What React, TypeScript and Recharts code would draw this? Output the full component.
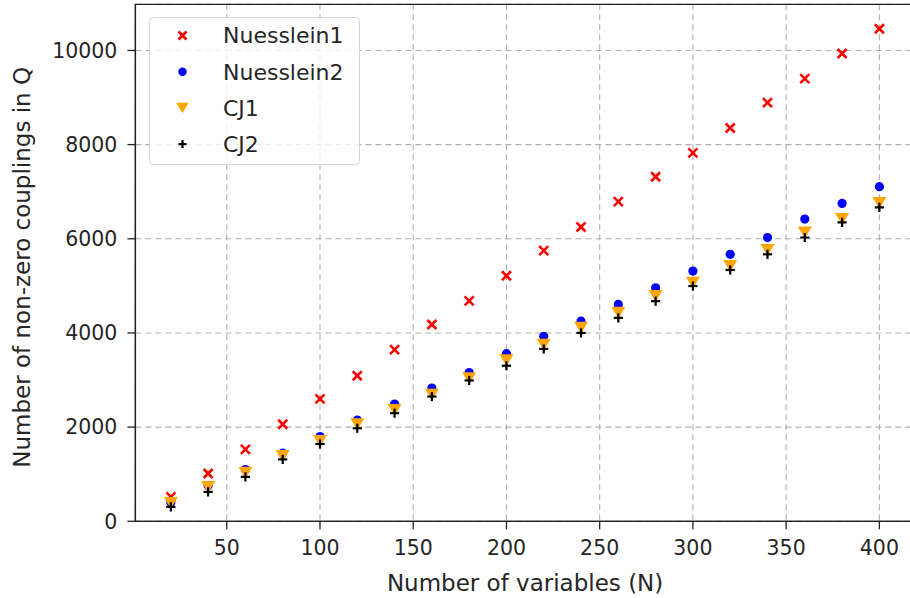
import React from 'react';
import { ScatterChart, Scatter, XAxis, YAxis, CartesianGrid, Legend, ReferenceArea, Label } from 'recharts';

const nValues = [20, 40, 60, 80, 100, 120, 140, 160, 180, 200, 220, 240, 260, 280, 300, 320, 340, 360, 380, 400];
const nuesslein1 = [518, 1016, 1528, 2061, 2601, 3092, 3646, 4179, 4680, 5215, 5750, 6250, 6790, 7318, 7825, 8352, 8891, 9400, 9936, 10460];
const nuesslein2 = [400, 760, 1100, 1450, 1800, 2150, 2490, 2829, 3160, 3560, 3930, 4250, 4605, 4960, 5315, 5671, 6027, 6418, 6752, 7107];
const cj1 = [390, 731, 1030, 1386, 1706, 2061, 2366, 2686, 3040, 3418, 3752, 4108, 4428, 4783, 5067, 5422, 5763, 6133, 6418, 6759];
const cj2 = [305, 625, 945, 1315, 1642, 1976, 2296, 2650, 2991, 3304, 3660, 4001, 4321, 4675, 4996, 5337, 5671, 6027, 6347, 6666];

const xTicks = [50, 100, 150, 200, 250, 300, 350, 400];
const yTicks = [0, 2000, 4000, 6000, 8000, 10000];
const xDomain = [1, 419];
const yDomain = [0, 10980];

const seriesNames = ['Nuesslein1', 'Nuesslein2', 'CJ1', 'CJ2'];

const toPoints = (ys: number[]) => nValues.map((x, i) => ({ x, y: ys[i] }));

const FONT = '"DejaVu Sans", sans-serif';
const TEXT = '#262626';

const drawCross = (cx: number, cy: number, s: number) => (
  <g>
    <line x1={cx - s} y1={cy - s} x2={cx + s} y2={cy + s} stroke="#ff0000" strokeWidth={2.6} />
    <line x1={cx - s} y1={cy + s} x2={cx + s} y2={cy - s} stroke="#ff0000" strokeWidth={2.6} />
  </g>
);
const drawDot = (cx: number, cy: number, r: number) => <circle cx={cx} cy={cy} r={r} fill="#0000ff" />;
const drawTri = (cx: number, cy: number, w: number, h: number) => (
  <polygon points={`${cx - w / 2},${cy - h / 2} ${cx + w / 2},${cy - h / 2} ${cx},${cy + h / 2}`} fill="#ffa500" />
);
const drawPlus = (cx: number, cy: number, s: number) => (
  <g>
    <line x1={cx - s} y1={cy} x2={cx + s} y2={cy} stroke="#000" strokeWidth={2.2} />
    <line x1={cx} y1={cy - s} x2={cx} y2={cy + s} stroke="#000" strokeWidth={2.2} />
  </g>
);

const CrossShape = (p: any) => drawCross(p.cx, p.cy, 4.5);
const DotShape = (p: any) => drawDot(p.cx, p.cy, 4.6);
const TriShape = (p: any) => drawTri(p.cx, p.cy, 14, 12);
const PlusShape = (p: any) => drawPlus(p.cx, p.cy, 4.6);

const legendMarkers = [
  (cx: number, cy: number) => drawCross(cx, cy, 4),
  (cx: number, cy: number) => drawDot(cx, cy, 4.2),
  (cx: number, cy: number) => drawTri(cx, cy, 12.5, 10.5),
  (cx: number, cy: number) => drawPlus(cx, cy, 4),
];

const LegendBox = () => (
  <svg width={212} height={149} style={{ display: 'block' }}>
    <rect x={0.5} y={0.5} width={210} height={147} rx={4} ry={4} fill="#ffffff" fillOpacity={0.8} stroke="#d6d6d6" strokeWidth={1} />
    {seriesNames.map((name, i) => {
      const cy = 18.5 + i * 36.2;
      return (
        <g key={name}>
          {legendMarkers[i](33.5, cy)}
          <text x={74} y={cy} dy="0.36em" fontFamily={FONT} fontSize={22} fill={TEXT}>{name}</text>
        </g>
      );
    })}
  </svg>
);

export default function App() {
  return (
    <div style={{ position: 'fixed', left: 0, top: 0, width: 910, height: 598, overflow: 'hidden', background: '#fff' }}>
      <ScatterChart width={940} height={598} margin={{ top: 4.3, right: 25.2, bottom: 0, left: 0 }}>
        <CartesianGrid stroke="#b0b0b0" strokeDasharray="6 4" strokeWidth={1.1} />
        <ReferenceArea x1={xDomain[0]} x2={xDomain[1]} y1={yDomain[0]} y2={yDomain[1]} fill="none" stroke="#222" strokeWidth={1.3} ifOverflow="visible" />
        <XAxis
          dataKey="x"
          type="number"
          domain={xDomain}
          ticks={xTicks}
          allowDataOverflow
          height={76.7}
          tickSize={8}
          tickMargin={11}
          stroke="#222"
          tick={{ fontFamily: FONT, fontSize: 20.5, fill: TEXT }}
          axisLine={{ stroke: '#222', strokeWidth: 1.3 }}
          tickLine={{ stroke: '#222', strokeWidth: 1.3 }}
        >
          <Label
            content={(props: any) => {
              const vb = props.viewBox;
              return (
                <text x={vb.x + vb.width / 2} y={590.5} textAnchor="middle" fontFamily={FONT} fontSize={23} fill={TEXT}>
                  Number of variables (N)
                </text>
              );
            }}
          />
        </XAxis>
        <YAxis
          dataKey="y"
          type="number"
          domain={yDomain}
          ticks={yTicks}
          allowDataOverflow
          width={135.4}
          tickSize={8}
          tickMargin={10}
          tick={{ fontFamily: FONT, fontSize: 20.5, fill: TEXT }}
          axisLine={{ stroke: '#222', strokeWidth: 1.3 }}
          tickLine={{ stroke: '#222', strokeWidth: 1.3 }}
        >
          <Label
            content={(props: any) => {
              const vb = props.viewBox;
              const cy = vb.y + vb.height / 2 + 4.5;
              return (
                <text x={30} y={cy} transform={`rotate(-90 30 ${cy})`} textAnchor="middle" fontFamily={FONT} fontSize={23} fill={TEXT}>
                  Number of non-zero couplings in Q
                </text>
              );
            }}
          />
        </YAxis>
        <Legend
          layout="vertical"
          verticalAlign="middle"
          align="center"
          wrapperStyle={{ left: 148.5, top: 16.5, width: 212, height: 149 }}
          content={() => <LegendBox />}
        />
        <Scatter name="Nuesslein1" data={toPoints(nuesslein1)} shape={CrossShape} isAnimationActive={false} />
        <Scatter name="Nuesslein2" data={toPoints(nuesslein2)} shape={DotShape} isAnimationActive={false} />
        <Scatter name="CJ1" data={toPoints(cj1)} shape={TriShape} isAnimationActive={false} />
        <Scatter name="CJ2" data={toPoints(cj2)} shape={PlusShape} isAnimationActive={false} />
      </ScatterChart>
    </div>
  );
}
